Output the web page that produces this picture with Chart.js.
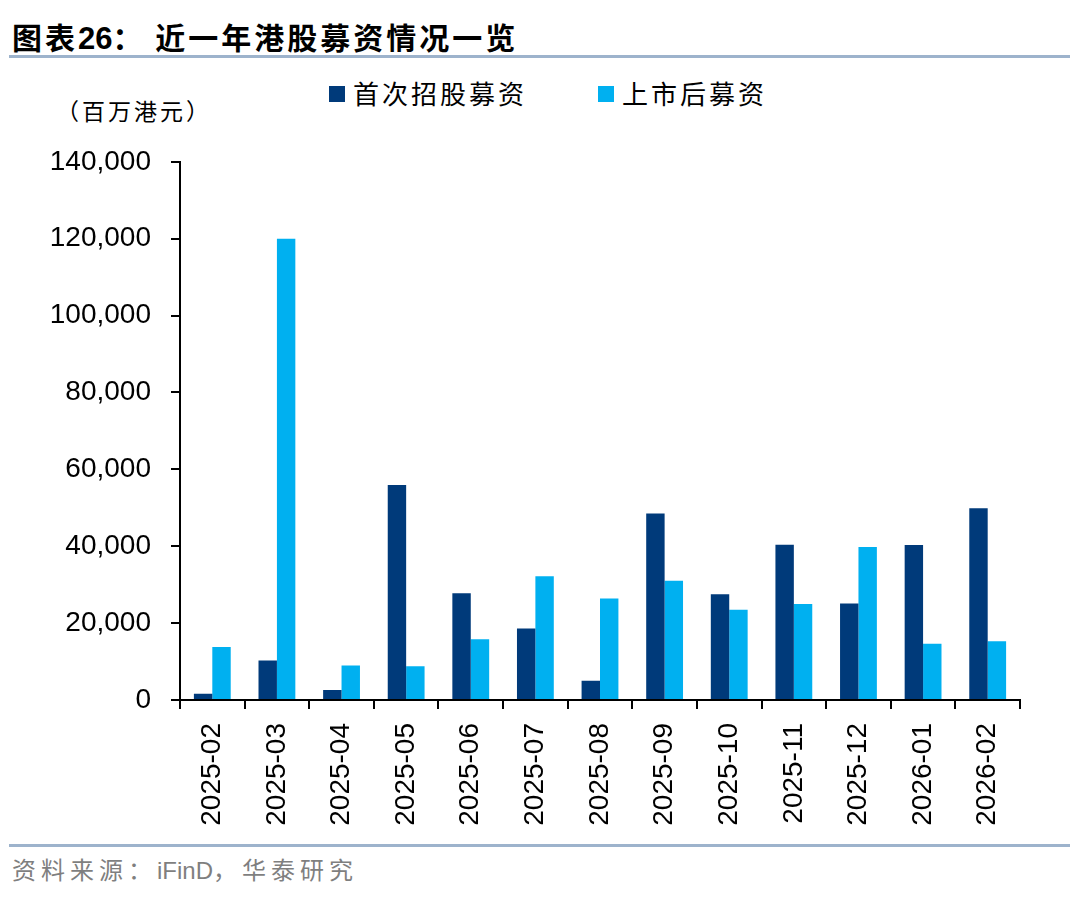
<!DOCTYPE html>
<html>
<head>
<meta charset="utf-8">
<script src="https://cdn.jsdelivr.net/npm/chart.js@4"></script>
<style>
  body { margin: 0; background: #fff; width: 1080px; height: 906px; position: relative; overflow: hidden; font-family: "Noto Sans CJK SC", sans-serif; }
  .title { position: absolute; left: 12px; top: 14px; font-size: 30px; font-weight: bold; color: #000; letter-spacing: 3px; white-space: nowrap; }
  .title b { font-family: "Liberation Sans", Arial, sans-serif; font-size: 31px; letter-spacing: 0; }
  .rule { position: absolute; left: 9px; width: 1061px; height: 3px; background: #9db3cc; }
  .unit { position: absolute; left: 56px; top: 93px; font-size: 23px; color: #000; letter-spacing: 3px; }
  .legend { position: absolute; top: 74px; font-size: 26px; color: #000; letter-spacing: 3px; white-space: nowrap; }
  .legend i { display: inline-block; width: 16px; height: 16px; margin-right: 8px; vertical-align: 2px; }
  .source { position: absolute; left: 12px; top: 851px; font-size: 24px; color: #7f7f7f; letter-spacing: 5px; }
  .source span { font-family: "Liberation Sans", Arial, sans-serif; letter-spacing: 0; }
  #wrap { position: absolute; left: 0; top: 125px; width: 1080px; height: 715px; }
</style>
</head>
<body>
<div class="title">图表<b>26</b>：&nbsp;近一年港股募资情况一览</div>
<div class="rule" style="top:55px"></div>
<div class="unit">（百万港元）</div>
<div class="legend" style="left:329px"><i style="background:#003a7a"></i>首次招股募资</div>
<div class="legend" style="left:598px"><i style="background:#00b0f0"></i>上市后募资</div>
<div id="wrap"><canvas id="chart"></canvas></div>
<div class="rule" style="top:844px"></div>
<div class="source">资料来源：<span>iFinD</span>，华泰研究</div>

<script>
const months = ['2025-02', '2025-03', '2025-04', '2025-05', '2025-06', '2025-07', '2025-08',
                '2025-09', '2025-10', '2025-11', '2025-12', '2026-01', '2026-02'];
const ipoFunds = [1600, 10300, 2600, 55900, 27800, 18600, 5000, 48500, 27500, 40400, 25100, 40300, 49900];
const postIpoFunds = [13800, 120000, 9000, 8800, 15800, 32200, 26400, 31000, 23500, 25000, 39800, 14600, 15300];
const yTicks = [0, 20000, 40000, 60000, 80000, 100000, 120000, 140000];

const ctx = document.getElementById('chart').getContext('2d');
const chart = new Chart(ctx, {
    type: 'bar',
    data: {
        labels: months,
        datasets: [{
            label: '首次招股募资',
            data: ipoFunds,
            backgroundColor: '#003a7a'
        }, {
            label: '上市后募资',
            data: postIpoFunds,
            backgroundColor: '#00b0f0'
        }]
    },
    options: {
        responsive: true,
        maintainAspectRatio: false,
        animation: false,
        layout: { padding: { top: 7, right: 60, left: 0, bottom: 0 } },
        plugins: {
            legend: { display: false },
            tooltip: { enabled: false }
        },
        datasets: {
            bar: { categoryPercentage: 0.57, barPercentage: 1.0 }
        },
        scales: {
            x: {
                grid: { drawOnChartArea: false, color: '#000', lineWidth: 2, tickLength: 9 },
                border: { color: '#000', width: 2 },
                ticks: {
                    color: '#000',
                    font: { family: 'Liberation Sans', size: 28 },
                    minRotation: 90,
                    maxRotation: 90,
                    padding: 14
                },
                afterFit: axis => { axis.height = 140; }
            },
            y: {
                min: 0,
                max: 140000,
                afterBuildTicks: axis => { axis.ticks = yTicks.map(v => ({ value: v })); },
                grid: { drawOnChartArea: false, color: '#000', lineWidth: 2, tickLength: 9 },
                border: { color: '#000', width: 2 },
                ticks: {
                    color: '#000',
                    font: { family: 'Liberation Sans', size: 28 },
                    padding: 20,
                    callback: v => v.toLocaleString('en-US')
                },
                afterFit: axis => { axis.width = 180; }
            }
        }
    }
});
</script>
</body>
</html>
